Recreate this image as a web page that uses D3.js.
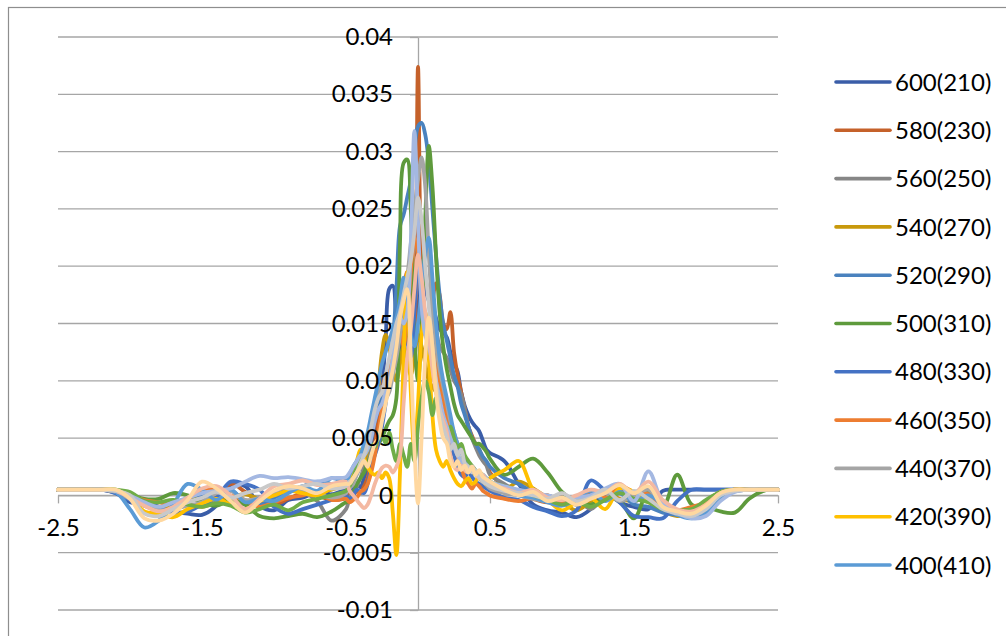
<!DOCTYPE html>
<html>
<head>
<meta charset="utf-8">
<script src="https://cdn.jsdelivr.net/npm/d3@7"></script>
<style>
  html, body { margin: 0; padding: 0; background: #fff; }
  svg { display: block; font-family: Lato, "Noto Sans", sans-serif; }
</style>
</head>
<body>
<svg id="chart" width="1006" height="636"></svg>
<script>
// Shared x positions (coarse in the tails, finer around the central peak)
const xValues = [
  -2.5,-2.4,-2.3,-2.2,-2.1,-2.0,-1.9,-1.8,-1.7,-1.6,-1.5,-1.4,-1.3,-1.2,-1.1,-1.0,-0.9,-0.8,-0.7,-0.6,-0.5,
  -0.475,-0.45,-0.425,-0.4,-0.375,-0.35,-0.325,-0.3,-0.275,-0.25,-0.225,-0.2,-0.175,-0.15,-0.125,-0.1,-0.075,-0.05,-0.025,
  0,0.025,0.05,0.075,0.1,0.125,0.15,0.175,0.2,0.225,0.25,0.275,0.3,0.325,0.35,0.375,0.4,0.425,0.45,0.475,
  0.5,0.6,0.7,0.8,0.9,1.0,1.1,1.2,1.3,1.4,1.5,1.6,1.7,1.8,1.9,2.0,2.1,2.2,2.3,2.4,2.5
];

const s600_210 = [
  0.0005,0.0005,0.0005,0.0005,0.0002,-0.0006,-0.0008,-0.001,-0.0014,-0.0016,-0.0017,-0.0009,0.0009,0.0008,-0.0009,-0.0013,-0.0004,-0.0002,0.0003,0.0001,0.0005,
  0.0004,0.0006,0.001,0.0007,0.0015,0.0025,0.0038,0.0055,0.0075,0.0095,0.0135,0.018,0.0183,0.015,0.0125,0.014,0.0165,0.0155,0.014,
  0.016,0.0195,0.018,0.017,0.0165,0.0155,0.0145,0.0142,0.0138,0.0125,0.0115,0.0108,0.009,0.0078,0.007,0.0064,0.006,0.0056,0.0048,0.004,
  0.0037,0.003,0.001,-0.0008,-0.0013,-0.0015,-0.0019,-0.0012,0.0003,-0.0006,-0.001,-0.0012,0.0004,0.0005,0.0005,0.0005,0.0005,0.0005,0.0005,0.0005,0.0005
];
const s580_230 = [
  0.0005,0.0005,0.0005,0.0005,0.0003,-0.0002,-0.0009,-0.0013,-0.001,-0.0004,-0.0001,-0.0002,0.001,0.0003,-0.0006,-0.0008,-0.0003,0.0002,0,-0.0004,-0.0002,
  0.0003,0,0.0004,0.0002,0.0008,0.0015,0.003,0.0045,0.0065,0.009,0.0105,0.011,0.0125,0.014,0.016,0.0175,0.0195,0.0185,0.014,
  0.0374,0.018,0.0145,0.0155,0.017,0.0185,0.0175,0.015,0.0145,0.016,0.0125,0.0105,0.009,0.0075,0.006,0.0052,0.0045,0.004,0.0032,0.0028,
  0.002,0.0008,0.0002,-0.0003,-0.0006,-0.0002,-0.0008,-0.0004,0.0003,0.0006,-0.0002,0.0004,-0.0012,-0.0015,-0.0014,-0.0005,0.0003,0.0005,0.0005,0.0005,0.0005
];
const s560_250 = [
  0.0005,0.0005,0.0005,0.0005,0.0004,0,-0.0006,-0.001,-0.0008,-0.0005,-0.0003,0.0003,-0.0002,-0.0008,-0.0004,0.0002,0.0006,0.0003,-0.0005,-0.0022,-0.0012,
  -0.0002,0.0003,0.0008,0.0015,0.0025,0.0036,0.005,0.0068,0.008,0.0085,0.0095,0.011,0.012,0.0135,0.015,0.0165,0.018,0.0205,0.022,
  0.021,0.02,0.019,0.0175,0.016,0.0145,0.013,0.0125,0.012,0.011,0.01,0.0095,0.0088,0.0075,0.006,0.005,0.0042,0.0035,0.003,0.0026,
  0.0018,0.001,0.0003,-0.0002,0,-0.0005,-0.0003,-0.0012,0,0.0005,0.0002,-0.0005,-0.0014,-0.0016,-0.0017,-0.001,0,0.0004,0.0005,0.0005,0.0005
];
const s540_270 = [
  0.0005,0.0005,0.0005,0.0005,0.0005,0,-0.0007,-0.0012,-0.001,-0.0008,-0.001,-0.0006,-0.0002,0.0001,-0.0003,-0.0001,0.0004,0.0006,0.0003,0.0005,0.001,
  0.0014,0.0018,0.0022,0.0026,0.003,0.004,0.0055,0.007,0.0095,0.0125,0.014,0.013,0.011,0.01,0.0115,0.013,0.012,0.0105,0.012,
  0.014,0.013,0.0115,0.01,0.0095,0.009,0.008,0.007,0.006,0.005,0.0042,0.0035,0.003,0.0026,0.0022,0.002,0.0018,0.0015,0.0012,0.001,
  0.0008,0.0005,0.0012,0.0006,-0.0002,-0.0006,-0.0013,-0.0005,0.0005,-0.0003,-0.0005,-0.0002,-0.0013,-0.0018,-0.0016,-0.0006,0.0002,0.0005,0.0005,0.0005,0.0005
];
const s520_290 = [
  0.0005,0.0005,0.0005,0.0005,0.0004,-0.0002,-0.0008,-0.0013,-0.0012,-0.0006,0,-0.0003,0.0004,-0.0005,-0.0008,-0.0002,0.0003,0.0008,0.0012,0.001,0.0013,
  0.0016,0.002,0.0024,0.003,0.0038,0.0045,0.0055,0.0065,0.0075,0.0085,0.0095,0.011,0.0135,0.018,0.0235,0.0245,0.026,0.0275,0.03,
  0.0322,0.0325,0.0315,0.029,0.025,0.021,0.0175,0.015,0.0135,0.012,0.0105,0.0095,0.008,0.007,0.006,0.005,0.0045,0.004,0.0034,0.003,
  0.0025,0.0015,0.001,0.0002,-0.0006,-0.0008,-0.0004,0.0003,-0.0004,0.0002,-0.0008,-0.001,-0.0015,-0.0017,-0.0018,-0.0012,0,0.0004,0.0005,0.0005,0.0005
];
const s500_310 = [
  0.0005,0.0005,0.0005,0.0005,0.0004,0.0001,-0.0003,-0.0003,0.0002,0,-0.0006,-0.0009,-0.0004,-0.0008,-0.0018,-0.002,-0.0018,-0.0016,-0.0019,-0.0014,-0.0006,
  -0.0005,0.0002,0.001,0.0015,0.002,0.0028,0.0035,0.004,0.0045,0.005,0.0058,0.0065,0.007,0.0085,0.022,0.029,0.0293,0.025,0.014,
  0.01,0.015,0.024,0.0305,0.027,0.021,0.016,0.013,0.011,0.0095,0.008,0.007,0.0065,0.006,0.0055,0.005,0.0045,0.0045,0.0042,0.0038,
  0.0032,0.0018,0.0025,0.0032,0.002,0.0003,-0.0006,-0.0008,-0.0003,-0.0005,-0.002,0.0003,-0.001,0.0018,-0.0008,-0.001,-0.0014,-0.0015,-0.0003,0.0004,0.0005
];
const s480_330 = [
  0.0005,0.0005,0.0005,0.0005,0.0002,-0.0004,-0.0006,-0.001,-0.0015,-0.0014,-0.0008,-0.0002,0.0012,0.001,0.0005,-0.001,-0.0016,-0.0012,-0.0008,-0.0004,0,
  -0.0004,0,0.0005,0.0003,0.0002,0.001,0.0025,0.0035,0.0045,0.006,0.008,0.0105,0.013,0.015,0.016,0.0155,0.0135,0.012,0.016,
  0.02,0.0185,0.0155,0.013,0.012,0.011,0.0095,0.008,0.006,0.0045,0.0035,0.0025,0.0018,0.0016,0.002,0.0016,0.0012,0.001,0.0008,0.0006,
  0.0004,-0.0002,-0.0004,-0.001,-0.0014,-0.0018,-0.0013,0.0013,0.0004,-0.0006,-0.0018,-0.0019,-0.002,-0.0005,0.0005,0.0005,0.0005,0.0005,0.0005,0.0005,0.0005
];
const s460_350 = [
  0.0005,0.0005,0.0005,0.0005,0.0004,0,-0.0004,-0.0006,-0.0008,-0.0003,0.0003,0.0006,0,-0.0004,-0.001,-0.0006,-0.0002,0,0.0003,-0.0004,-0.0003,
  -0.0006,-0.0004,-0.0002,0.0003,0.0005,0.001,0.002,0.0035,0.0055,0.0075,0.009,0.0105,0.013,0.015,0.0145,0.013,0.0155,0.0195,0.0225,
  0.021,0.017,0.014,0.015,0.0135,0.012,0.01,0.0085,0.007,0.006,0.0045,0.0035,0.0025,0.0015,0.001,0.0006,0.001,0.0008,0.0004,0.0002,
  0,-0.0003,-0.0005,-0.0002,0,-0.0007,-0.0005,0.0004,-0.0002,0.0008,0.0003,0.0001,-0.0012,-0.0013,-0.001,-0.0006,0.0002,0.0005,0.0005,0.0005,0.0005
];
const s440_370 = [
  0.0005,0.0005,0.0005,0.0005,0.0003,-0.0003,-0.0009,-0.0013,-0.0012,-0.0009,-0.0006,0.0002,0.0004,-0.0004,-0.0002,0.0003,0.0008,0.0005,0.0002,-0.0002,0.0002,
  0.0006,0.001,0.0018,0.0025,0.0035,0.0045,0.006,0.0075,0.009,0.0095,0.0085,0.009,0.0105,0.012,0.014,0.0165,0.019,0.022,0.025,
  0.0275,0.0295,0.027,0.021,0.016,0.013,0.011,0.0095,0.008,0.0065,0.0055,0.0045,0.0038,0.0032,0.0028,0.0024,0.002,0.0016,0.0012,0.0009,
  0.0006,0.0002,0,-0.0003,-0.0005,-0.0002,-0.0008,-0.0003,0.0002,-0.0005,0,0.0005,-0.001,-0.0016,-0.0018,-0.0014,-0.0002,0.0004,0.0005,0.0005,0.0005
];
const s420_390 = [
  0.0005,0.0005,0.0005,0.0005,0.0004,-0.0001,-0.0014,-0.0016,-0.0019,-0.0012,-0.0007,-0.0003,-0.0008,-0.0012,-0.0005,0,0.0004,0.0002,0,0.0006,0.0008,
  0.0012,0.002,0.003,0.004,0.0032,0.0025,0.002,0.0018,0.002,0.0015,0.002,0.0015,-0.0015,-0.0052,0.002,0.012,0.0195,0.009,0.004,
  0.008,0.014,0.016,0.012,0.007,0.004,0.003,0.0025,0.003,0.0022,0.0015,0.001,0.0008,0.0012,0.0015,0.001,0.0012,0.0018,0.0014,0.001,
  0.0015,0.0022,0.003,0.0005,-0.0004,-0.0013,-0.0006,-0.0002,-0.0012,0.0006,0.0003,-0.0006,-0.001,-0.0015,-0.0014,-0.0006,0.0003,0.0005,0.0005,0.0005,0.0005
];
const s400_410 = [
  0.0005,0.0005,0.0005,0.0005,0.0003,-0.0012,-0.0028,-0.0022,-0.0008,0.001,0.0005,-0.0004,0.0005,-0.0006,-0.0003,-0.0005,0.0002,0.0008,0.0004,0.0015,0.0012,
  0.0018,0.0025,0.003,0.0035,0.0045,0.0055,0.007,0.0085,0.01,0.0115,0.0125,0.0135,0.0145,0.0155,0.017,0.019,0.0175,0.014,0.013,
  0.015,0.018,0.021,0.0225,0.019,0.015,0.012,0.01,0.0085,0.007,0.0055,0.0045,0.0038,0.003,0.0025,0.0022,0.002,0.0018,0.0015,0.0012,
  0.001,0.0005,0,-0.0002,-0.0006,-0.0009,-0.0003,0.0004,-0.0005,0.0003,-0.0005,0,-0.0008,-0.0017,-0.002,-0.0015,-0.0003,0.0004,0.0005,0.0005,0.0005
];
const s380_430 = [
  0.0005,0.0005,0.0005,0.0005,0.0005,0.0003,-0.0005,-0.0006,-0.0004,-0.0008,-0.001,-0.0007,-0.0009,-0.0015,-0.0012,-0.0008,-0.0013,-0.0006,-0.0003,0,0.0004,
  0.0008,0.0015,0.0025,0.003,0.0035,0.004,0.0045,0.0042,0.005,0.0055,0.0045,0.0055,0.004,0.003,0.0045,0.0035,0.0025,0.0045,0.003,
  0.006,0.0085,0.01,0.009,0.007,0.0085,0.0075,0.0065,0.0055,0.006,0.005,0.0042,0.0045,0.0035,0.003,0.0026,0.0022,0.002,0.0018,0.0015,
  0.0012,0.0008,0.0004,0,-0.0004,-0.0008,-0.0005,-0.001,-0.0004,0.0002,-0.0003,-0.0006,-0.0012,-0.0013,-0.0012,-0.0004,0.0003,0.0005,0.0005,0.0005,0.0005
];
const s360_450 = [
  0.0005,0.0005,0.0005,0.0005,0.0004,0,-0.0006,-0.001,-0.0006,-0.0002,0.0002,0.0004,0.0006,0.0012,0.0017,0.0015,0.0016,0.0014,0.0012,0.0015,0.0016,
  0.002,0.0025,0.003,0.0035,0.0035,0.004,0.005,0.0065,0.0075,0.008,0.009,0.01,0.012,0.014,0.0155,0.015,0.016,0.022,0.0318,
  0.024,0.0165,0.014,0.013,0.0115,0.01,0.0085,0.007,0.006,0.005,0.0042,0.0035,0.003,0.0026,0.0022,0.0025,0.002,0.0015,0.0018,0.0015,
  0.0012,0.0008,0.0005,0.0002,0,-0.0003,-0.0002,0,0.0006,0.001,-0.0005,0.0021,-0.0006,-0.0015,-0.002,-0.0018,-0.0005,0.0003,0.0005,0.0005,0.0005
];
const s340_470 = [
  0.0005,0.0005,0.0005,0.0005,0.0004,-0.0002,-0.0009,-0.0014,-0.001,-0.0002,0.0006,0.0008,0,-0.0012,-0.0003,0.0008,0.001,0.0013,0.0009,0.001,0.0012,
  0.0004,0,-0.0004,-0.0008,-0.0011,-0.0008,0,0.001,0.0018,0.0024,0.0026,0.0025,0.002,0.0025,0.0035,0.008,0.012,0.0145,0.018,
  0.021,0.019,0.016,0.014,0.011,0.009,0.0075,0.0065,0.0055,0.0035,0.0025,0.0022,0.0026,0.0022,0.002,0.0025,0.002,0.0015,0.0018,0.0012,
  0.001,0.0006,0.0002,0.0005,-0.0002,-0.0004,0,0.0005,0.0003,0.001,0.0002,0.0012,-0.0004,-0.0012,-0.0014,-0.0008,0.0002,0.0005,0.0005,0.0005,0.0005
];
const s320_490 = [
  0.0005,0.0005,0.0005,0.0005,0.0004,0,-0.0016,-0.0018,-0.0012,-0.0006,-0.0002,0.0003,-0.0002,0.0002,0.0005,0.001,0.0006,0.0008,0.001,0.0006,0.0008,
  0.0012,0.0015,0.002,0.0028,0.0035,0.0045,0.006,0.0075,0.0085,0.009,0.0105,0.012,0.0135,0.015,0.016,0.0175,0.019,0.0205,0.023,
  0.026,0.024,0.02,0.0165,0.013,0.01,0.0075,0.006,0.005,0.004,0.0045,0.0035,0.004,0.0028,0.0025,0.002,0.0022,0.0016,0.0012,0.001,
  0.0008,0.0004,0.0002,0,-0.0003,0.0002,-0.0005,-0.0002,0.0005,-0.0004,0.0004,-0.0003,-0.0012,-0.0016,-0.0018,-0.0012,0,0.0004,0.0005,0.0005,0.0005
];
const s300_510 = [
  0.0005,0.0005,0.0005,0.0005,0.0005,-0.0003,-0.002,-0.0022,-0.0016,-0.0004,0.0012,0.0006,-0.0005,-0.0015,-0.0005,0.0004,0.0008,0.0006,0.0002,0.0008,0.001,
  0.001,0.0015,0.002,0.0025,0.003,0.0025,0.0035,0.0045,0.005,0.0065,0.008,0.0095,0.011,0.013,0.0155,0.017,0.018,0.012,0.004,
  -0.0007,0.005,0.012,0.0155,0.013,0.009,0.0065,0.005,0.0045,0.003,0.0025,0.003,0.0022,0.0026,0.002,0.0025,0.0018,0.0022,0.0016,0.0014,
  0.0012,0.0005,0,0.0003,-0.0005,-0.0002,-0.0008,-0.0003,0.0002,0.0009,0.0002,0.0008,-0.001,-0.0014,-0.0016,-0.0009,0.0002,0.0005,0.0005,0.0005,0.0005
];

const seriesNames = [
  "600(210)","580(230)","560(250)","540(270)","520(290)","500(310)",
  "480(330)","460(350)","440(370)","420(390)","400(410)",
  "380(430)","360(450)","340(470)","320(490)","300(510)"
];
const seriesValues = [
  s600_210, s580_230, s560_250, s540_270, s520_290, s500_310,
  s480_330, s460_350, s440_370, s420_390, s400_410,
  s380_430, s360_450, s340_470, s320_490, s300_510
];
// Number of series listed in the legend box
const legendCount = 11;

const yTicks = [-0.01,-0.005,0,0.005,0.01,0.015,0.02,0.025,0.03,0.035,0.04];
const yTickLabels = ["-0.01","-0.005","0","0.005","0.01","0.015","0.02","0.025","0.03","0.035","0.04"];
const xTicks = [-2.5,-1.5,-0.5,0.5,1.5,2.5];
const xTickLabels = ["-2.5","-1.5","-0.5","0.5","1.5","2.5"];

const palette = [
  "#3a5da8","#c5612a","#868686","#c8990c","#4a82be","#5e9a3c",
  "#4472c4","#ed7d31","#a5a5a5","#ffc000","#5b9bd5",
  "#70ad47","#a4b8e2","#f4b9a2","#c9c9c9","#ffd8a0"
];

const svg = d3.select("#chart");
const W = 1006, H = 636;

// Chart-area frame
svg.append("rect")
  .attr("x", 8.5).attr("y", 7.5)
  .attr("width", W + 10).attr("height", H + 10)
  .attr("fill", "#fff").attr("stroke", "#8e8e8e").attr("stroke-width", 1.2);

const x = d3.scaleLinear().domain([-2.5, 2.5]).range([58, 778]);
const y = d3.scaleLinear().domain([-0.01, 0.04]).range([610, 37]);

// Horizontal gridlines
svg.append("g").selectAll("line").data(yTicks).join("line")
  .attr("x1", x(-2.5)).attr("x2", x(2.5))
  .attr("y1", d => y(d)).attr("y2", d => y(d))
  .attr("stroke", "#a6a6a6").attr("stroke-width", 1.3);

const FONT = 24;
const AXIS_COLOR = "#a6a6a6";

// Axes crossing at the origin: vertical at x = 0, horizontal at y = 0
const yAxis = d3.axisLeft(y)
  .tickValues(yTicks)
  .tickFormat((d, i) => yTickLabels[i])
  .tickSizeInner(8).tickSizeOuter(0).tickPadding(17);
const xAxis = d3.axisBottom(x)
  .tickValues(xTicks)
  .tickFormat((d, i) => xTickLabels[i])
  .tickSizeInner(8).tickSizeOuter(0).tickPadding(16);

// Axis lines and tick marks sit beneath the series
function axisLines(axis, transform) {
  const g = svg.append("g").attr("transform", transform).call(axis);
  g.selectAll(".tick text").remove();
  g.select(".domain").attr("stroke", AXIS_COLOR).attr("stroke-width", 1.3);
  g.selectAll(".tick line").attr("stroke", AXIS_COLOR).attr("stroke-width", 1.3);
}
axisLines(yAxis, `translate(${x(0)},0)`);
axisLines(xAxis, `translate(0,${y(0)})`);

// Smoothed series lines
const line = d3.line()
  .defined(d => d.v != null && !isNaN(d.v))
  .x(d => x(d.x))
  .y(d => y(d.v))
  .curve(d3.curveCatmullRom.alpha(0.5));

const series = seriesNames.map((name, i) => ({
  name,
  color: palette[i],
  points: xValues.map((xv, j) => ({ x: xv, v: seriesValues[i][j] }))
}));

svg.append("g").selectAll("path").data(series).join("path")
  .attr("d", d => line(d.points))
  .attr("fill", "none")
  .attr("stroke", d => d.color)
  .attr("stroke-width", 3.8)
  .attr("stroke-linejoin", "round")
  .attr("stroke-linecap", "round");

// Tick labels are drawn above the series
function axisLabels(axis, transform) {
  const g = svg.append("g").attr("transform", transform).call(axis);
  g.select(".domain").remove();
  g.selectAll(".tick line").remove();
  g.selectAll(".tick text")
    .attr("fill", "#000")
    .style("font-family", "Lato, 'Noto Sans', sans-serif")
    .style("font-size", FONT + "px");
}
axisLabels(yAxis, `translate(${x(0)},0)`);
axisLabels(xAxis, `translate(0,${y(0)})`);

// Legend
const legend = svg.append("g");
const legendItems = legend.selectAll("g").data(series.slice(0, legendCount)).join("g")
  .attr("transform", (d, i) => `translate(836,${82 + i * 48.3})`);
legendItems.append("line")
  .attr("x1", 0).attr("x2", 54).attr("y1", 0).attr("y2", 0)
  .attr("stroke", d => d.color).attr("stroke-width", 3.6).attr("stroke-linecap", "round");
legendItems.append("text")
  .attr("x", 59).attr("y", 0).attr("dy", "0.36em")
  .attr("fill", "#000")
  .style("font-size", FONT + "px")
  .text(d => d.name);
</script>
</body>
</html>
